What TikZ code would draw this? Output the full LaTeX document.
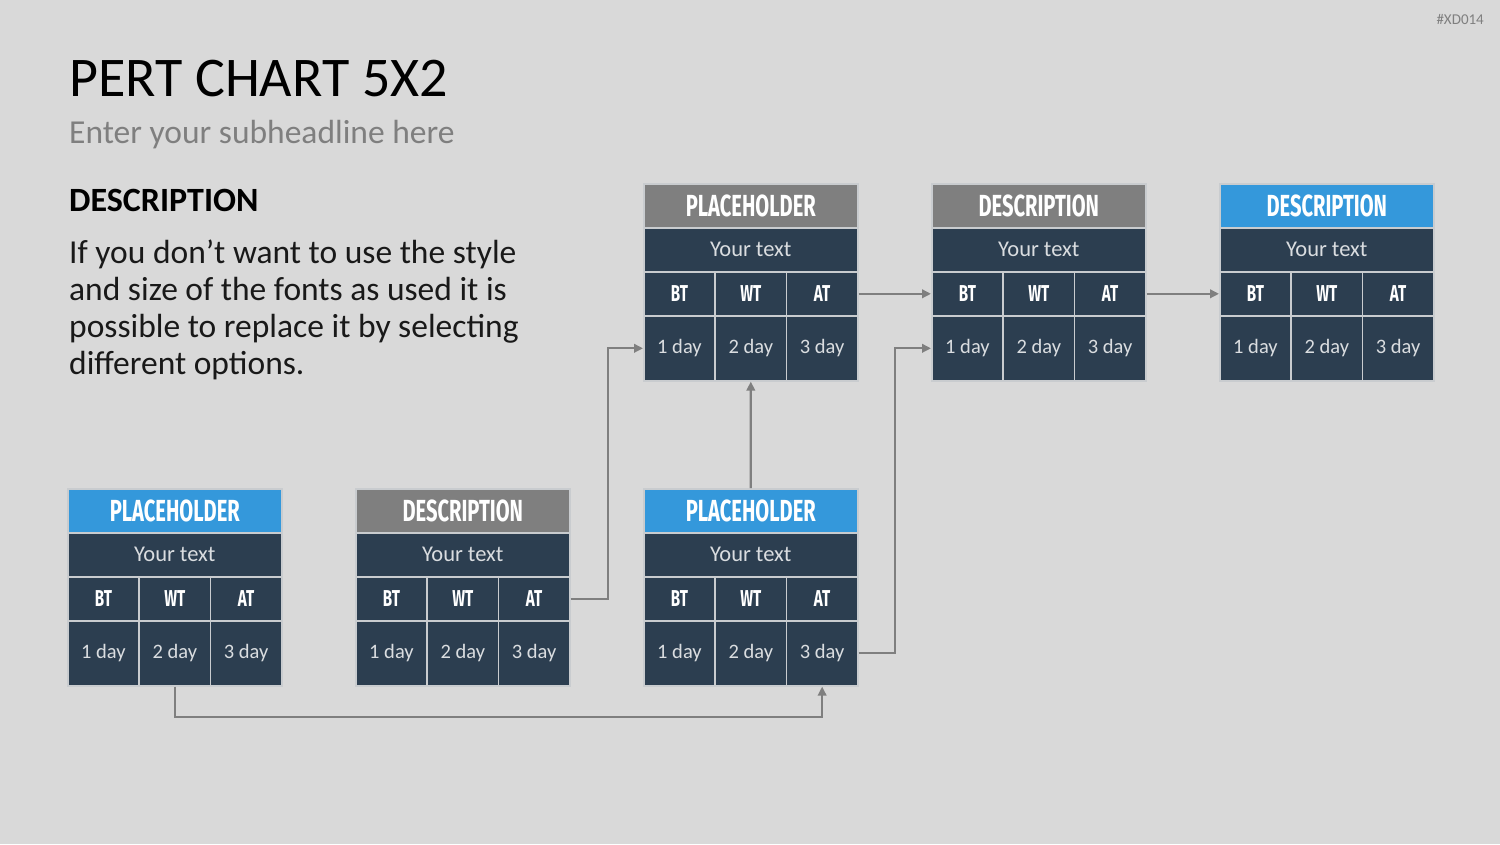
\documentclass[tikz,border=0pt]{standalone}
\usepackage{fontspec}
\setmainfont{Carlito}
\newfontfamily\headfont[FakeStretch=0.66]{Fira Sans}
\usetikzlibrary{arrows.meta}
\definecolor{bg}{HTML}{D9D9D9}
\definecolor{cell}{HTML}{2C3E50}
\definecolor{hblue}{HTML}{3498DB}
\definecolor{hgray}{HTML}{7F7F7F}
\definecolor{sep}{HTML}{C9CCCF}
\definecolor{ctext}{HTML}{DADDE0}
\definecolor{conn}{HTML}{7F7F7F}
\tikzset{
  base/.style={anchor=north west, inner sep=0pt, draw=sep, line width=1.6pt},
  hdr/.style={base, minimum width=214pt, minimum height=44pt, text=white,
    font=\headfont\bfseries\fontsize{30.5}{30.5}\selectfont},
  txtrow/.style={base, fill=cell, minimum width=214pt, minimum height=44pt, text=ctext,
    font=\fontsize{22.5}{22.5}\selectfont},
  colhead/.style={base, fill=cell, minimum width=71.33pt, minimum height=44pt, text=white,
    font=\headfont\bfseries\fontsize{23}{23}\selectfont},
  daycell/.style={base, fill=cell, minimum width=71.33pt, minimum height=65pt, text=ctext,
    font=\fontsize{20.5}{20.5}\selectfont},
  conn/.style={draw=conn, line width=2.2pt, -{Triangle[length=9pt,width=8.5pt]}}
}
\newcommand{\pertbox}[5]{%
  % #1 name, #2 x, #3 y, #4 header color, #5 header text
  \node[hdr, fill=#4] (#1h) at (#2,#3) {#5};
  \node[txtrow] (#1t) at (#2,#3+44) {Your text};
  \node[colhead] (#1bt) at (#2,#3+88) {BT};
  \node[colhead] (#1wt) at (#2+71.33,#3+88) {WT};
  \node[colhead] (#1at) at (#2+142.67,#3+88) {AT};
  \node[daycell] (#1da) at (#2,#3+132) {1 day};
  \node[daycell] (#1db) at (#2+71.33,#3+132) {2 day};
  \node[daycell] (#1dc) at (#2+142.67,#3+132) {3 day};
}
\begin{document}
\begin{tikzpicture}[x=1pt,y=-1pt]
\fill[bg] (0,0) rectangle (1500,844);
\useasboundingbox (0,0) rectangle (1500,844);
\node[anchor=base east, inner sep=0pt, text=hgray, font=\fontsize{15}{15}\selectfont] (code) at (1484,24) {\#XD014};
\node[anchor=base west, inner sep=0pt, font=\fontsize{56}{56}\selectfont] (title) at (69,96) {PERT CHART 5X2};
\node[anchor=base west, inner sep=0pt, text=hgray, font=\fontsize{33.5}{33.5}\selectfont] (sub) at (69,143) {Enter your subheadline here};
\node[anchor=base west, inner sep=0pt, font=\bfseries\fontsize{34}{34}\selectfont] (desc) at (69,211) {DESCRIPTION};
\node[anchor=base west, inner sep=0pt, align=left, text=black!90, font=\fontsize{33.5}{36.7}\selectfont] (para) at (69,374)
  {If you don’t want to use the style\\and size of the fonts as used it is\\possible to replace it by selecting\\different options.};

\pertbox{a}{643}{183}{hgray}{PLACEHOLDER}
\pertbox{b}{931}{183}{hgray}{DESCRIPTION}
\pertbox{c}{1219}{183}{hblue}{DESCRIPTION}
\pertbox{d}{67}{488}{hblue}{PLACEHOLDER}
\pertbox{e}{355}{488}{hgray}{DESCRIPTION}
\pertbox{f}{643}{488}{hblue}{PLACEHOLDER}

\draw[conn] (aat.east) -- (bbt.west);
\draw[conn] (bat.east) -- (cbt.west);
\draw[conn] (fh.north) -- (adb.south);
\draw[conn] (eat.east) -- ++(37,0) |- (ada.west);
\draw[conn] (fdc.east) -- ++(36,0) |- (bda.west);
\draw[conn] (ddb.south) -- ++(0,30) -| (fdc.south);
\end{tikzpicture}
\end{document}
